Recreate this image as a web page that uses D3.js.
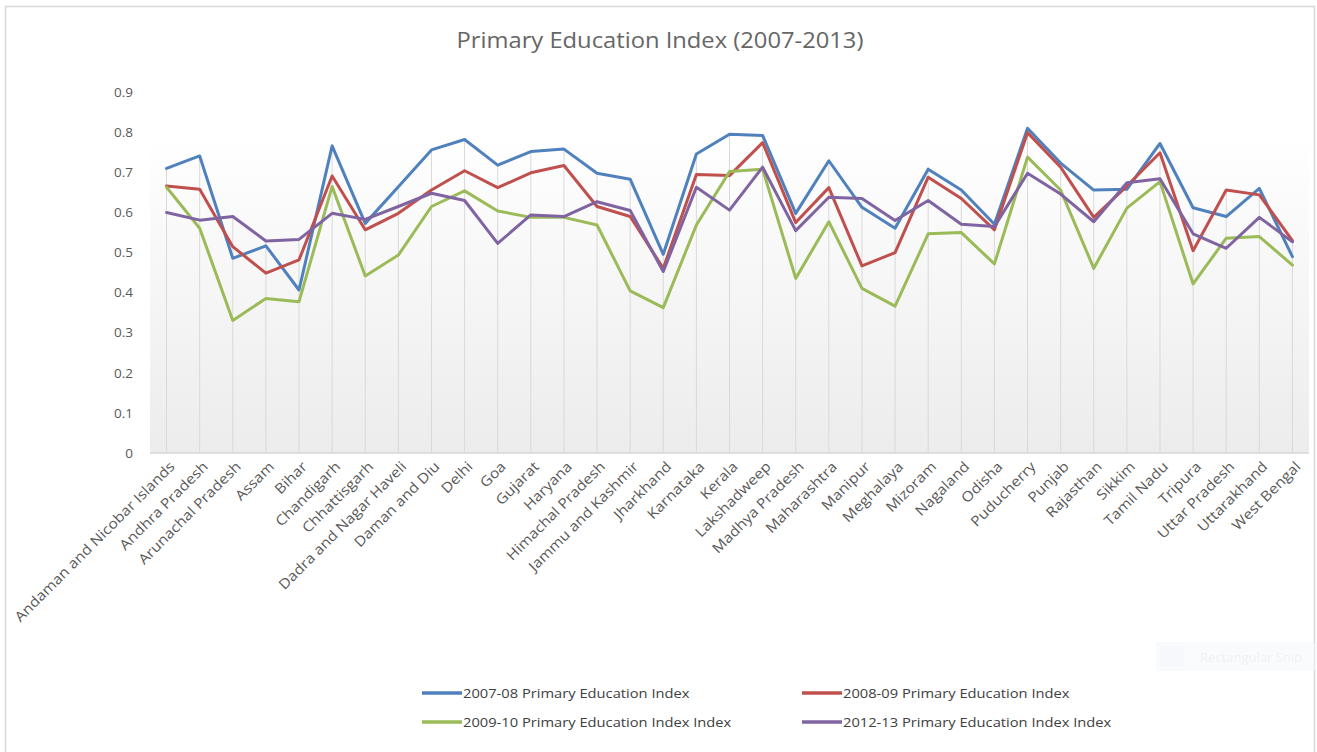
<!DOCTYPE html>
<html>
<head>
<meta charset="utf-8">
<script src="https://cdn.jsdelivr.net/npm/d3@7/dist/d3.min.js"></script>
<style>
  html, body { margin: 0; padding: 0; background: #ffffff; }
  svg { display: block; font-family: "Open Sans", Lato, sans-serif; }
</style>
</head>
<body>
<svg id="chart" width="1317" height="752"></svg>
<script>
const categories = ["Andaman and Nicobar Islands","Andhra Pradesh","Arunachal Pradesh","Assam","Bihar","Chandigarh","Chhattisgarh","Dadra and Nagar Haveli","Daman and Diu","Delhi","Goa","Gujarat","Haryana","Himachal Pradesh","Jammu and Kashmir","Jharkhand","Karnataka","Kerala","Lakshadweep","Madhya Pradesh","Maharashtra","Manipur","Meghalaya","Mizoram","Nagaland","Odisha","Puducherry","Punjab","Rajasthan","Sikkim","Tamil Nadu","Tripura","Uttar Pradesh","Uttarakhand","West Bengal"];

const series2007 = [0.709,0.740,0.485,0.516,0.406,0.765,0.572,0.663,0.755,0.781,0.717,0.751,0.757,0.697,0.682,0.495,0.745,0.794,0.791,0.597,0.728,0.612,0.560,0.707,0.655,0.570,0.809,0.722,0.655,0.657,0.771,0.611,0.589,0.659,0.489];
const series2008 = [0.665,0.657,0.514,0.448,0.481,0.690,0.556,0.597,0.655,0.703,0.661,0.698,0.716,0.614,0.589,0.460,0.694,0.691,0.773,0.574,0.661,0.466,0.499,0.687,0.634,0.556,0.798,0.712,0.587,0.665,0.748,0.504,0.655,0.643,0.529];
const series2009 = [0.662,0.560,0.330,0.385,0.377,0.664,0.441,0.493,0.614,0.653,0.603,0.587,0.587,0.568,0.404,0.362,0.568,0.701,0.707,0.435,0.576,0.410,0.366,0.546,0.549,0.471,0.737,0.655,0.460,0.610,0.676,0.421,0.535,0.539,0.468];
const series2012 = [0.599,0.580,0.589,0.528,0.532,0.597,0.582,0.614,0.647,0.629,0.522,0.593,0.589,0.626,0.604,0.452,0.662,0.605,0.712,0.554,0.637,0.634,0.579,0.629,0.570,0.564,0.697,0.645,0.576,0.673,0.683,0.546,0.510,0.587,0.526];

const seriesNames = ["2007-08 Primary Education Index","2008-09 Primary Education Index","2009-10 Primary Education Index Index","2012-13 Primary Education Index Index"];
const seriesColors = ["#4f81bd","#c0504d","#9bbb59","#8064a2"];
const yTicks = [0,0.1,0.2,0.3,0.4,0.5,0.6,0.7,0.8,0.9];

const allSeries = [series2007, series2008, series2009, series2012];

const svg = d3.select("#chart");
const FONT = "'Open Sans', Lato, sans-serif";

// widen glyphs horizontally (reference text is wider than it is tall)
function stretch(sel, k) {
  sel.each(function() {
    const w = this.getComputedTextLength();
    d3.select(this).attr("textLength", w * k).attr("lengthAdjust", "spacingAndGlyphs");
  });
}

// chart border
svg.append("rect").attr("x",5.5).attr("y",6.5).attr("width",1309).attr("height",752)
  .attr("fill","#ffffff").attr("stroke","#d9d9d9").attr("stroke-width",1.5);

const plotLeft = 150, plotRight = 1309, yTop = 91.7, yBottom = 453;

const x = d3.scalePoint().domain(categories).range([plotLeft, plotRight]).padding(0.5);
const y = d3.scaleLinear().domain([0,0.9]).range([yBottom, yTop]);

// plot area gradient
const defs = svg.append("defs");
const grad = defs.append("linearGradient").attr("id","pa").attr("x1",0).attr("y1",0).attr("x2",0).attr("y2",1);
grad.append("stop").attr("offset","0%").attr("stop-color","#ffffff");
grad.append("stop").attr("offset","12%").attr("stop-color","#ffffff");
grad.append("stop").attr("offset","100%").attr("stop-color","#ececec");
svg.append("rect").attr("x",plotLeft).attr("y",yTop).attr("width",plotRight-plotLeft).attr("height",yBottom-yTop)
  .attr("fill","url(#pa)");

// drop lines (from the highest point of each category to the axis)
svg.append("g").selectAll("line").data(categories).join("line")
  .attr("x1", d => x(d)).attr("x2", d => x(d))
  .attr("y1", (d,i) => y(d3.max(allSeries, s => s[i])))
  .attr("y2", y(0))
  .attr("stroke","#d9d9d9").attr("stroke-width",1);

// x axis
const xAxis = svg.append("g").attr("transform",`translate(0,${yBottom})`)
  .call(d3.axisBottom(x).tickSize(0).tickPadding(10));
xAxis.select(".domain").attr("stroke","#d9d9d9").attr("stroke-width",1.5)
  .attr("d", `M${plotLeft},0H${plotRight}`);
xAxis.selectAll("text")
  .attr("font-family",FONT)
  .attr("font-size",14).attr("fill","#595959")
  .attr("text-anchor","end")
  .attr("dx","-0.3em").attr("dy","0.45em")
  .attr("transform","rotate(-45)")
  .call(stretch, 1.12);

// y axis
const yAxis = svg.append("g").attr("transform",`translate(${plotLeft-17},0)`)
  .call(d3.axisLeft(y).tickValues(yTicks).tickSize(0).tickPadding(0)
    .tickFormat(d => d === 0 ? "0" : d3.format(".1f")(d)));
yAxis.select(".domain").remove();
yAxis.selectAll("text").attr("font-family",FONT)
  .attr("font-size",13.5).attr("fill","#595959");

// lines
const line = d3.line().x((d,i) => x(categories[i])).y(d => y(d));
svg.append("g").selectAll("path").data(allSeries).join("path")
  .attr("d", d => line(d))
  .attr("fill","none")
  .attr("stroke",(d,i) => seriesColors[i])
  .attr("stroke-width",3)
  .attr("stroke-linejoin","round")
  .attr("stroke-linecap","round");

// title
svg.append("text").attr("x",660).attr("y",48).attr("text-anchor","middle")
  .attr("font-size",21).attr("fill","#666666")
  .text("Primary Education Index (2007-2013)")
  .call(stretch, 1.13);

// legend
const legendPos = [[422,693],[802,693],[422,722],[802,722]];
const lg = svg.append("g").selectAll("g").data(seriesNames).join("g")
  .attr("transform",(d,i) => `translate(${legendPos[i][0]},${legendPos[i][1]})`);
lg.append("line").attr("x1",0).attr("x2",40).attr("y1",0).attr("y2",0)
  .attr("stroke",(d,i) => seriesColors[i]).attr("stroke-width",3.5);
lg.append("text").attr("x",41).attr("y",0).attr("dy","0.35em")
  .attr("font-size",13).attr("fill","#404040").text(d => d)
  .call(stretch, 1.13);

// faint screen-snip artifact
const snip = svg.append("g").attr("opacity",0.5);
snip.append("rect").attr("x",1157).attr("y",643).attr("width",160).attr("height",27)
  .attr("fill","#f7f9fc").attr("stroke","#eef2f8");
snip.append("rect").attr("x",1160).attr("y",646).attr("width",24).attr("height",21).attr("fill","#eef2f8");
snip.append("text").attr("x",1200).attr("y",662).attr("font-size",13).attr("fill","#dfe5ee").text("Rectangular Snip");
</script>
</body>
</html>
